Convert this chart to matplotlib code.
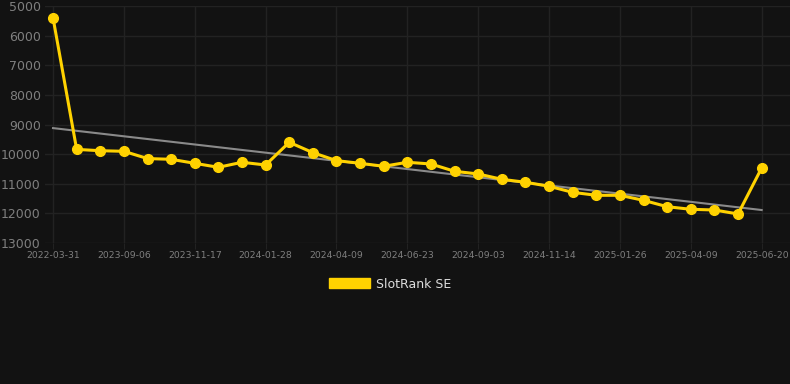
import matplotlib
matplotlib.use("Agg")
import matplotlib.pyplot as plt
import numpy as np

# category dates (every third is labelled on the axis)
dates = [
    "2022-03-31", "2023-07-20", "2023-08-13", "2023-09-06", "2023-09-30",
    "2023-10-24", "2023-11-17", "2023-12-11", "2024-01-04", "2024-01-28",
    "2024-02-21", "2024-03-16", "2024-04-09", "2024-05-04", "2024-05-29",
    "2024-06-23", "2024-07-17", "2024-08-10", "2024-09-03", "2024-09-27",
    "2024-10-21", "2024-11-14", "2024-12-08", "2025-01-01", "2025-01-26",
    "2025-02-19", "2025-03-16", "2025-04-09", "2025-05-03", "2025-05-27",
    "2025-06-20",
]
ranks = [
    5400, 9840, 9885, 9905, 10150, 10175, 10310, 10445, 10275, 10367,
    9600, 9950, 10220, 10310, 10410, 10275, 10333, 10580, 10670, 10850,
    10950, 11085, 11290, 11390, 11390, 11560, 11775, 11862, 11886, 12020,
    10468,
]
yticks = [5000, 6000, 7000, 8000, 9000, 10000, 11000, 12000, 13000]
series_name = "SlotRank SE"

bg = "#121212"
yellow = "#FFD200"
grid = "#222222"
tick_col = "#7f7f7f"

fig = plt.figure(figsize=(7.9, 3.84), dpi=100, facecolor=bg)
ax = fig.add_axes([45 / 790, 1 - 243 / 384, 745 / 790, 237 / 384], facecolor=bg)

x = np.arange(len(ranks))
slope, intercept = np.polyfit(x, ranks, 1)
ax.plot(x, slope * x + intercept, color="#8a8a8a", lw=1.5, zorder=2)
ax.plot(x, ranks, color=yellow, lw=2.2, marker="o", ms=7, zorder=3, label=series_name)

ax.set_ylim(13000, 5000)
ax.set_yticks(yticks)
ax.set_xlim(-0.34, 31.2)
ax.set_xticks(x[::3])
ax.set_xticklabels(dates[::3])

ax.grid(True, color=grid, lw=1)
ax.set_axisbelow(True)
for s in ax.spines.values():
    s.set_visible(False)
ax.tick_params(axis="y", length=0, labelsize=9, labelcolor=tick_col, pad=3)
ax.tick_params(axis="x", length=4, color=grid, labelsize=6.7, labelcolor=tick_col, pad=2)

handle = plt.Rectangle((0, 0), 1, 1, color=yellow)
fig.legend([handle], [series_name], loc="center", bbox_to_anchor=(390 / 790, 1 - 284 / 384),
           frameon=False, labelcolor="#dddddd", fontsize=9, handlelength=3.3,
           handleheight=0.9, handletextpad=0.5)

fig.savefig("out.png", dpi=100, facecolor=bg)
